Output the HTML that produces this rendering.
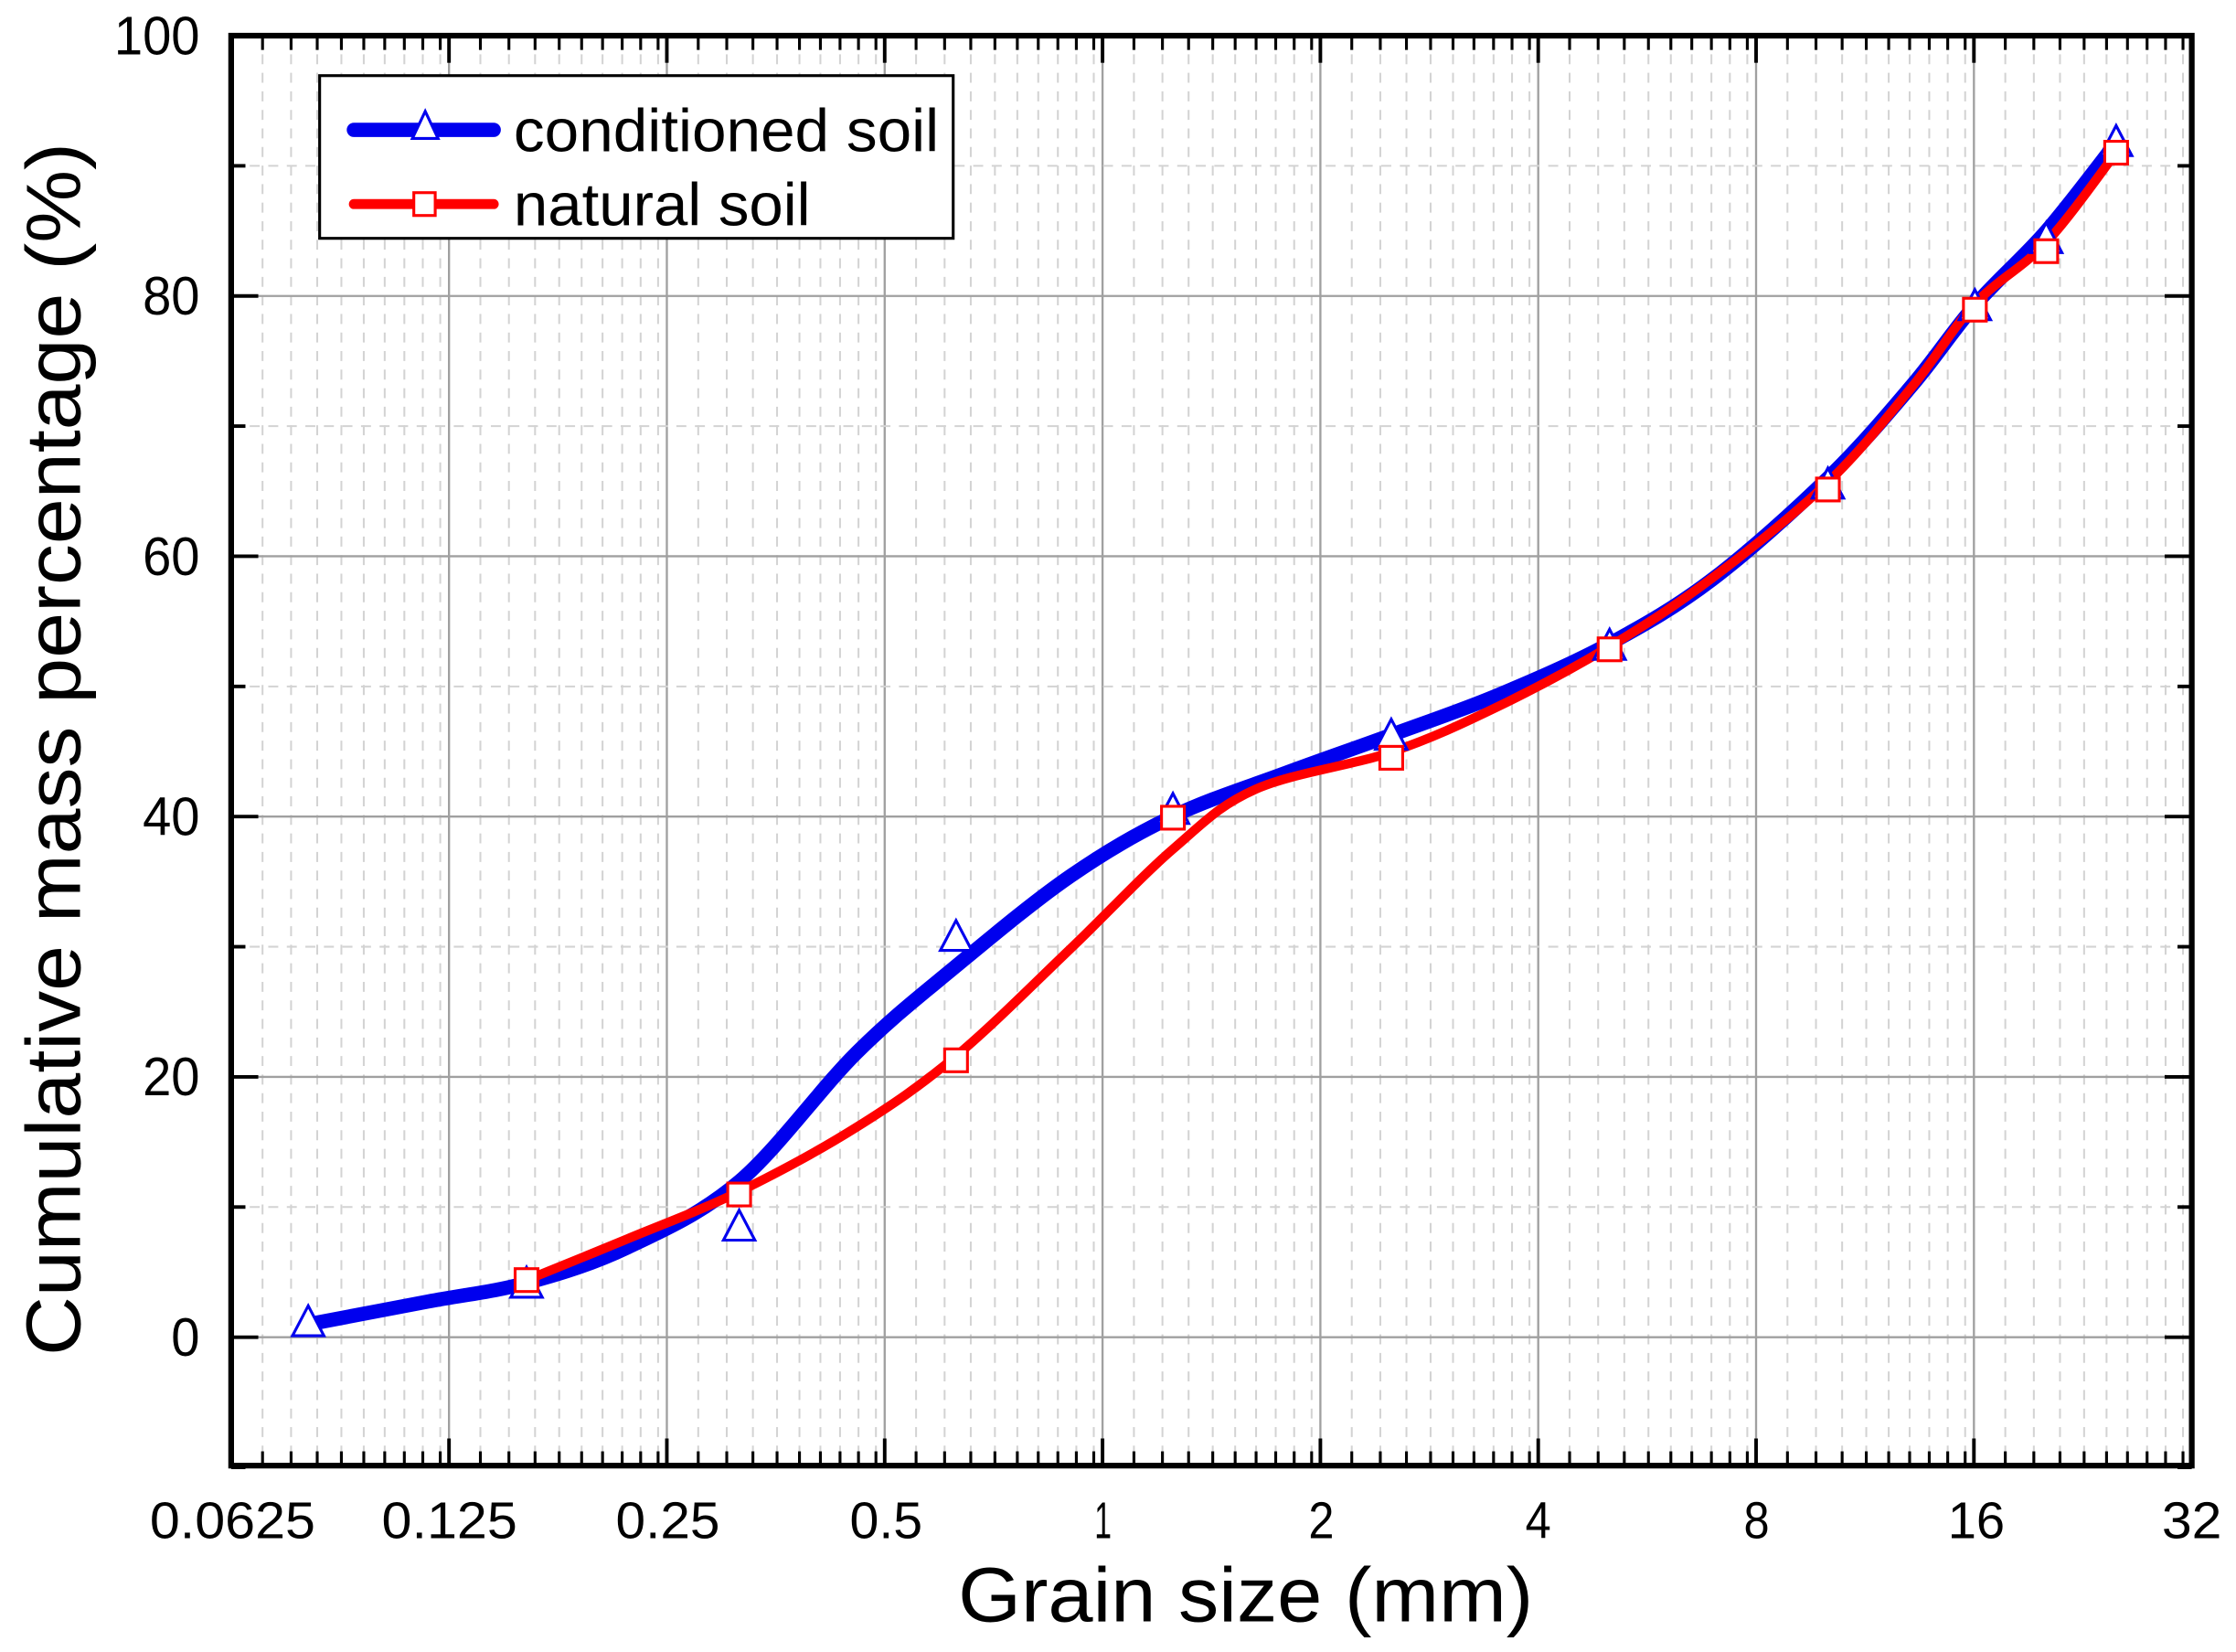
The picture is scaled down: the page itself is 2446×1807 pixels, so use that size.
<!DOCTYPE html>
<html><head><meta charset="utf-8"><style>
html,body{margin:0;padding:0;background:#fff;}
svg{display:block;}
text{font-family:"Liberation Sans Narrow","Liberation Sans",sans-serif;fill:#000;}
</style></head><body>
<svg width="2446" height="1807" viewBox="0 0 1567 1157.6" preserveAspectRatio="none" xmlns="http://www.w3.org/2000/svg">
<rect x="0" y="0" width="1567" height="1157.6" fill="#fff"/>
<g id="grid"></g>
<g id="ticks"></g>
<rect x="162" y="25" width="1374" height="1002" fill="none" stroke="#000" stroke-width="4"/>
<g id="labels"></g>
<path id="pb" fill="none" stroke="#0000ee" stroke-width="10" stroke-linejoin="round" stroke-linecap="round"/>
<path id="pr" fill="none" stroke="#ff0000" stroke-width="6.5" stroke-linejoin="round" stroke-linecap="round"/>
<g id="markers"></g>
<rect x="224" y="53" width="444" height="114" fill="#fff" stroke="#000" stroke-width="2"/>
<line x1="248" y1="91" x2="346" y2="91" stroke="#0000ee" stroke-width="10" stroke-linecap="round"/>
<polygon points="298,78 289,97 307,97" fill="#fff" stroke="#0000ee" stroke-width="2"/>
<text x="360" y="106" font-size="42" textLength="298" lengthAdjust="spacingAndGlyphs">conditioned soil</text>
<line x1="248" y1="143" x2="346" y2="143" stroke="#ff0000" stroke-width="7" stroke-linecap="round"/>
<rect x="290" y="135" width="15" height="16" fill="#fff" stroke="#ff0000" stroke-width="2"/>
<text x="360" y="158" font-size="42" textLength="208" lengthAdjust="spacingAndGlyphs">natural soil</text>
<text x="873" y="1136" font-size="54" text-anchor="middle" textLength="403" lengthAdjust="spacingAndGlyphs">Grain size (mm)</text>
<text transform="translate(56,525) rotate(-90)" font-size="54" text-anchor="middle" textLength="850" lengthAdjust="spacingAndGlyphs">Cumulative mass percentage (%)</text>
</svg>
<script>
var NS="http://www.w3.org/2000/svg";
function el(p,t,a,txt){var e=document.createElementNS(NS,t);for(var k in a)e.setAttribute(k,a[k]);if(txt!==undefined)e.textContent=txt;document.getElementById(p).appendChild(e);return e;}
function cr(pts){var d="M"+pts[0][0]+","+pts[0][1];for(var i=0;i<pts.length-1;i++){var p0=pts[i-1]||pts[i],p1=pts[i],p2=pts[i+1],p3=pts[i+2]||p2;
 d+=" C"+(p1[0]+(p2[0]-p0[0])/6)+","+(p1[1]+(p2[1]-p0[1])/6)+" "+(p2[0]-(p3[0]-p1[0])/6)+","+(p2[1]-(p3[1]-p1[1])/6)+" "+p2[0]+","+p2[1];}return d;}
document.getElementById("pb").setAttribute("d",cr([[216,928],[300,912],[369,899],[440,874],[518,828],[600,738],[670,677],[750,614],[822,572],[900,542],[975,515],[1050,487],[1128,451],[1200,406],[1281,335],[1340,270],[1384,214],[1434,162],[1483,100]]));
document.getElementById("pr").setAttribute("d",cr([[369,897],[440,868],[518,835],[600,790],[670,740],[750,665],[822,595],[880,553],[975,527],[1050,495],[1128,453],[1200,405],[1281,338],[1340,271],[1384,213],[1434,170],[1483,107]]));
var L=162,R=1536,T=25,B=1027,oct=(R-L)/9;
function X(v){return L+Math.log2(v/0.0625)*oct;}
function Y(v){return 937-v*9.12;}
for(var i=0;i<9;i++){var base=0.0625*Math.pow(2,i);
 for(var k=1;k<=9;k++){var x=X(base*(1+k*0.105));
  el("grid","line",{x1:x,y1:T,x2:x,y2:B,stroke:"#d3d3d3","stroke-width":1.3,"stroke-dasharray":"7,6"});
  el("ticks","line",{x1:x,y1:B,x2:x,y2:B-10,stroke:"#000","stroke-width":2});
  el("ticks","line",{x1:x,y1:T,x2:x,y2:T+10,stroke:"#000","stroke-width":2});}
}
for(var i=1;i<9;i++){var x=L+i*oct;
 el("grid","line",{x1:x,y1:T,x2:x,y2:B,stroke:"#a0a0a0","stroke-width":1.5});}
for(var i=0;i<=9;i++){var x=L+i*oct;
 el("ticks","line",{x1:x,y1:B,x2:x,y2:B-19,stroke:"#000","stroke-width":2.5});
 el("ticks","line",{x1:x,y1:T,x2:x,y2:T+19,stroke:"#000","stroke-width":2.5});}
var xl=["0.0625","0.125","0.25","0.5","1","2","4","8","16","32"];
var xw=[116,95,73,51,12,18,18,18,40,42];
var xc=[163,315,468,621,773,926,1078,1231,1385,1536];
for(var i=0;i<10;i++){
 el("labels","text",{x:xc[i],y:1078,"font-size":36,"text-anchor":"middle",textLength:xw[i],lengthAdjust:"spacingAndGlyphs"},xl[i]);}
for(var v=-10;v<=100;v+=10){var y=Y(v);var maj=(v%20==0);
 if(v>-10&&v<100){
 if(maj)el("grid","line",{x1:L,y1:y,x2:R,y2:y,stroke:"#a0a0a0","stroke-width":1.5});
 else el("grid","line",{x1:L,y1:y,x2:R,y2:y,stroke:"#d3d3d3","stroke-width":1.3,"stroke-dasharray":"7,6"});}
 var len=maj?19:10;
 el("ticks","line",{x1:L,y1:y,x2:L+len,y2:y,stroke:"#000","stroke-width":2.5});
 el("ticks","line",{x1:R,y1:y,x2:R-len,y2:y,stroke:"#000","stroke-width":2.5});
 if(maj&&v>=0){var s=""+v;el("labels","text",{x:140,y:y+13,"font-size":38,"text-anchor":"end",textLength:s.length*20,lengthAdjust:"spacingAndGlyphs"},s);}
}
var bx=[216,369,518,670,822,975,1128,1281,1384,1434,1483];
var by=[927,900,860,657,568,516,453,340,215,168,100];
for(var i=0;i<bx.length;i++){var x=bx[i],y=by[i];
 el("markers","polygon",{points:(x)+","+(y-12)+" "+(x-11)+","+(y+9)+" "+(x+11)+","+(y+9),fill:"#fff",stroke:"#0000ee","stroke-width":2});}
var rx=[369,518,670,822,975,1128,1281,1384,1434,1483];
var ry=[897,837,743,573,531,455,343,217,176,107];
for(var i=0;i<rx.length;i++){
 el("markers","rect",{x:rx[i]-8,y:ry[i]-8,width:16,height:16,fill:"#fff",stroke:"#ff0000","stroke-width":2});}
</script>
</body></html>
